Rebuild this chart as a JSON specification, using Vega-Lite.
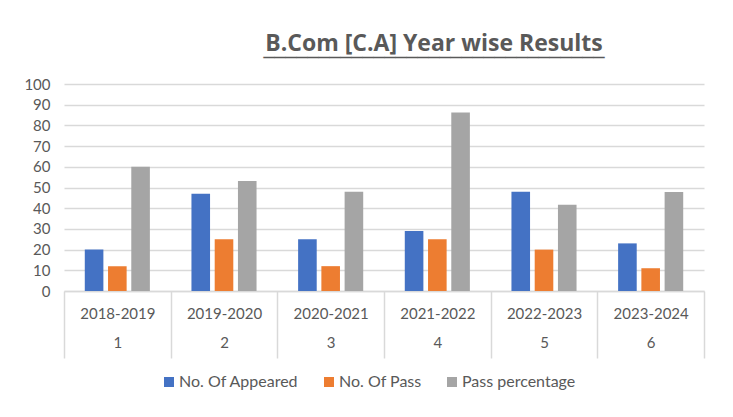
{
  "$schema": "https://vega.github.io/schema/vega-lite/v6.json",
  "autosize": {"type": "none"},
  "width": 640,
  "height": 207,
  "padding": {"left": 64, "top": 84, "right": 29, "bottom": 126},
  "background": "white",
  "title": {
    "text": "B.Com [C.A] Year wise Results",
    "subtitle": "‾‾‾‾‾‾‾‾‾‾‾‾‾‾‾‾‾‾‾‾‾‾‾‾‾‾‾‾‾‾‾",
    "anchor": "middle",
    "dx": 50,
    "offset": 0,
    "font": "Open Sans",
    "fontSize": 23,
    "fontWeight": "bold",
    "color": "#595959",
    "subtitleFont": "DejaVu Sans",
    "subtitleFontSize": 22,
    "subtitleColor": "#595959",
    "subtitlePadding": 0
  },
  "data": {
    "values": [
      {"period": "2018-2019|1", "series": "No. Of Appeared", "value": 20},
      {"period": "2018-2019|1", "series": "No. Of Pass", "value": 12},
      {"period": "2018-2019|1", "series": "Pass percentage", "value": 60},
      {"period": "2019-2020|2", "series": "No. Of Appeared", "value": 47},
      {"period": "2019-2020|2", "series": "No. Of Pass", "value": 25},
      {"period": "2019-2020|2", "series": "Pass percentage", "value": 53.2},
      {"period": "2020-2021|3", "series": "No. Of Appeared", "value": 25},
      {"period": "2020-2021|3", "series": "No. Of Pass", "value": 12},
      {"period": "2020-2021|3", "series": "Pass percentage", "value": 48},
      {"period": "2021-2022|4", "series": "No. Of Appeared", "value": 29},
      {"period": "2021-2022|4", "series": "No. Of Pass", "value": 25},
      {"period": "2021-2022|4", "series": "Pass percentage", "value": 86.2},
      {"period": "2022-2023|5", "series": "No. Of Appeared", "value": 48},
      {"period": "2022-2023|5", "series": "No. Of Pass", "value": 20},
      {"period": "2022-2023|5", "series": "Pass percentage", "value": 41.7},
      {"period": "2023-2024|6", "series": "No. Of Appeared", "value": 23},
      {"period": "2023-2024|6", "series": "No. Of Pass", "value": 11},
      {"period": "2023-2024|6", "series": "Pass percentage", "value": 47.8}
    ]
  },
  "mark": {"type": "bar"},
  "encoding": {
    "x": {
      "field": "period",
      "type": "nominal",
      "sort": null,
      "title": null,
      "scale": {"paddingInner": 0, "paddingOuter": 0},
      "axis": {
        "labelExpr": "datum.value ? split(datum.value, '|') : ''",
        "labelAngle": 0,
        "labelFont": "Lato",
        "labelFontSize": 15,
        "labelColor": "#595959",
        "labelLineHeight": 29,
        "labelPadding": -52,
        "tickBand": "extent",
        "tickSize": 67,
        "tickColor": "#d9d9d9",
        "tickWidth": 1.5,
        "domainColor": "#d9d9d9",
        "domainWidth": 1.5
      }
    },
    "xOffset": {
      "field": "series",
      "type": "nominal",
      "scale": {"paddingInner": 0.2, "paddingOuter": 0.894}
    },
    "y": {
      "field": "value",
      "type": "quantitative",
      "title": null,
      "scale": {"domain": [0, 100], "nice": false},
      "axis": {
        "values": [0, 10, 20, 30, 40, 50, 60, 70, 80, 90, 100],
        "domain": false,
        "ticks": false,
        "labelPadding": 14,
        "labelFont": "Lato",
        "labelFontSize": 15,
        "labelColor": "#595959",
        "gridColor": "#d9d9d9",
        "gridWidth": 1.5
      }
    },
    "color": {
      "field": "series",
      "type": "nominal",
      "scale": {
        "domain": ["No. Of Appeared", "No. Of Pass", "Pass percentage"],
        "range": ["#4472C4", "#ED7D31", "#A5A5A5"]
      },
      "legend": {
        "title": null,
        "orient": "none",
        "legendX": 97,
        "legendY": 290,
        "padding": 0,
        "direction": "horizontal",
        "symbolType": "square",
        "symbolSize": 100,
        "symbolStrokeWidth": 0,
        "labelFont": "Lato",
        "labelFontSize": 16,
        "labelColor": "#595959",
        "columnPadding": 22,
        "labelOffset": 2
      }
    }
  },
  "config": {
    "view": {"stroke": null}
  }
}
